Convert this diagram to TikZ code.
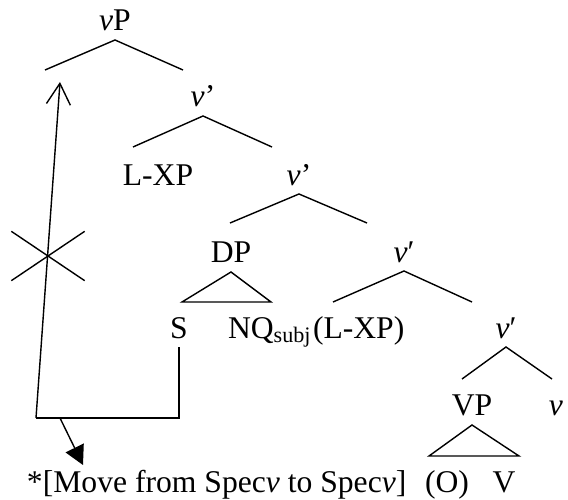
\documentclass[tikz,border=0pt]{standalone}
\usepackage{fontspec}
\setmainfont{Liberation Serif}
\usepackage{tikz}
\usetikzlibrary{arrows.meta, positioning, shapes.misc}

\begin{document}
\begin{tikzpicture}[x=0.02cm, y=-0.02cm,
    lbl/.style={anchor=base, inner sep=0pt, outer sep=0pt, font=\fontsize{18}{20}\selectfont},
    edge/.style={line width=0.8pt},
    move/.style={line width=0.8pt}]
    \useasboundingbox (0,0) rectangle (568,500);
    % 树的标签
    \node[lbl] (vP)    at (115,31)  {\textit{v}P};
    \node[lbl] (vbarA) at (203,107) {\textit{v}’};
    \node[lbl] (LXP)   at (158,185) {L-XP};
    \node[lbl] (vbarB) at (299,185) {\textit{v}’};
    \node[lbl] (DP)    at (231,262) {DP};
    \node[lbl] (vbarC) at (404,262) {\textit{v}′};
    \node[lbl] (S)     at (179,338) {S};
    \node[lbl, anchor=base west] (NQ)   at (228,338) {NQ\textsubscript{subj}};
    \node[lbl, anchor=base west] (LXPb) at (313,338) {(L-XP)};
    \node[lbl] (vbarD) at (506,338) {\textit{v}′};
    \node[lbl] (VP)    at (472,415) {VP};
    \node[lbl] (v)     at (556,415) {\textit{v}};
    \node[lbl] (O)     at (447,492) {(O)};
    \node[lbl] (V)     at (504,492) {V};
    \node[lbl, anchor=base west] (note) at (27,492) {*[Move from Spec\textit{v} to Spec\textit{v}]};
    % 分枝
    \foreach \p/\lx/\rx/\ey in {vP/45/183/70, vbarA/133/272/147, vbarB/230/367/223, vbarC/333/472/302, vbarD/462/552/379} {
        \draw[edge] (\lx,\ey) -- ([yshift=-0.18cm]\p.base) -- (\rx,\ey);
    }
    % 三角形
    \foreach \p/\lx/\rx/\ey in {DP/182/271/302, VP/429/519/456} {
        \draw[edge] (\lx,\ey) -- ([yshift=-0.2cm]\p.base) -- (\rx,\ey) -- cycle;
    }
    % 移动
    \coordinate (bend)  at (36,418);
    \coordinate (split) at (60,418);
    \coordinate (land)  at (60,82);
    \coordinate (fail)  at (83,465);
    \draw[move] ([yshift=-0.18cm]S.base) |- (bend);
    \draw[move, -{Straight Barb[length=0.42cm, width=0.48cm]}] (bend) -- (land);
    \draw[move, -{Triangle[length=0.38cm, width=0.4cm]}] (split) -- (fail);
    \node[draw, cross out, line width=0.8pt, inner sep=0pt, minimum width=1.44cm, minimum height=0.96cm] (block) at (48,256) {};
\end{tikzpicture}
\end{document}
